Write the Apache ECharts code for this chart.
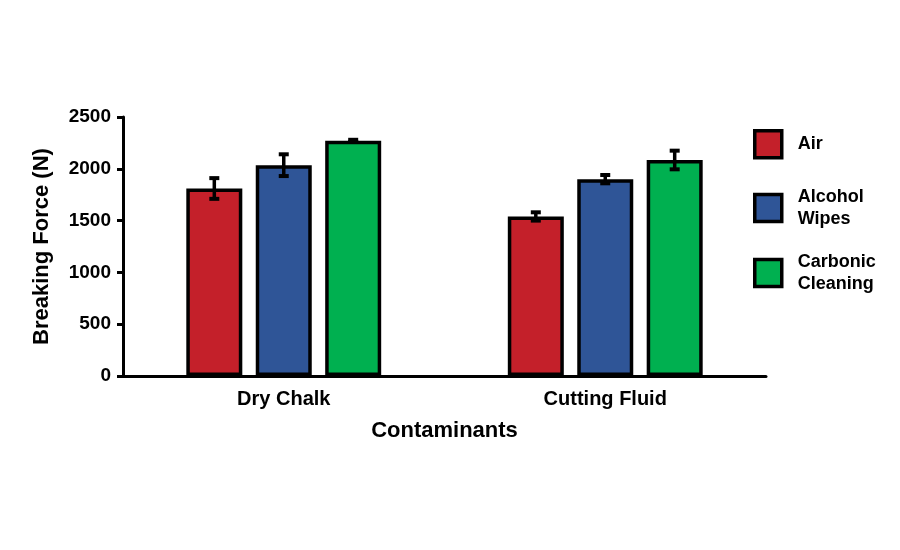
<!DOCTYPE html>
<html>
<head>
<meta charset="utf-8">
<script src="https://cdn.jsdelivr.net/npm/echarts@6/dist/echarts.min.js"></script>
<style>
  html, body { margin: 0; padding: 0; background: #fff; }
  #chart { width: 900px; height: 550px; }
</style>
</head>
<body>
<div id="chart"></div>
<script>
// data
const categories = ['Dry Chalk', 'Cutting Fluid'];
const seriesNames = ['Air', 'Alcohol Wipes', 'Carbonic Cleaning'];
const airMean = [1810, 1540];
const airErr = [100, 40];
const wipesMean = [2035, 1900];
const wipesErr = [105, 40];
const carbonMean = [2270, 2085];
const carbonErr = [10, 90];

const colors = ['#C4202A', '#2F5597', '#00B050'];
const barWidth = 56;
const barGap = 0.24;
const sansFont = '"Liberation Sans", Arial, sans-serif';

const means = [airMean, wipesMean, carbonMean];
const errs = [airErr, wipesErr, carbonErr];

const chart = echarts.init(document.getElementById('chart'));

const barSeries = seriesNames.map((name, i) => ({
  name: name,
  type: 'bar',
  barWidth: barWidth,
  barGap: (barGap * 100) + '%',
  data: means[i],
  itemStyle: { color: colors[i], borderColor: '#000', borderWidth: 3.5 },
  z: 2
}));

// error bars, one custom series per bar series
const errSeries = seriesNames.map((name, i) => ({
  type: 'custom',
  name: name + ' err',
  z: 5,
  silent: true,
  data: means[i].map((m, k) => [k, m - errs[i][k], m + errs[i][k]]),
  renderItem: (params, api) => {
    const offset = (i - 1) * barWidth * (1 + barGap);
    const lo = api.coord([api.value(0), api.value(1)]);
    const hi = api.coord([api.value(0), api.value(2)]);
    const x = lo[0] + offset;
    const half = 5;
    const stem = { stroke: '#000', lineWidth: 3.5 };
    const cap = { stroke: '#000', lineWidth: 4 };
    return {
      type: 'group',
      children: [
        { type: 'line', shape: { x1: x, y1: lo[1], x2: x, y2: hi[1] }, style: stem },
        { type: 'line', shape: { x1: x - half, y1: lo[1], x2: x + half, y2: lo[1] }, style: cap },
        { type: 'line', shape: { x1: x - half, y1: hi[1], x2: x + half, y2: hi[1] }, style: cap }
      ]
    };
  }
}));

const legendTops = [129, 186, 251];
const legendLabels = ['Air', 'Alcohol\nWipes', 'Carbonic\nCleaning'];

const option = {
  animation: false,
  backgroundColor: '#fff',
  grid: { left: 123, right: 134, top: 117, bottom: 174 },
  legend: seriesNames.map((name, i) => ({
    data: [name],
    orient: 'vertical',
    left: 753,
    top: legendTops[i],
    padding: 0,
    icon: 'rect',
    itemWidth: 27,
    itemHeight: 27,
    itemStyle: { borderColor: '#000', borderWidth: 3.5 },
    selectedMode: false,
    formatter: () => legendLabels[i],
    textStyle: {
      fontFamily: sansFont,
      fontWeight: 'bold',
      fontSize: 18,
      lineHeight: 22,
      color: '#000',
      padding: [0, 0, 0, 11]
    }
  })),
  xAxis: {
    type: 'category',
    data: categories,
    name: 'Contaminants',
    nameLocation: 'middle',
    nameGap: 44,
    nameTextStyle: { fontFamily: sansFont, fontWeight: 'bold', fontSize: 22, color: '#000' },
    axisLine: { lineStyle: { color: '#000', width: 3 } },
    axisTick: { length: 6, interval: 0, lineStyle: { color: '#000', width: 3 } },
    axisLabel: { margin: 13, fontFamily: sansFont, fontWeight: 'bold', fontSize: 20, color: '#000' }
  },
  yAxis: {
    type: 'value',
    min: 0,
    max: 2500,
    interval: 500,
    name: 'Breaking Force (N)',
    nameLocation: 'middle',
    nameGap: 70,
    nameTextStyle: { fontFamily: sansFont, fontWeight: 'bold', fontSize: 22, color: '#000' },
    axisLine: { show: true, lineStyle: { color: '#000', width: 3 } },
    axisTick: { show: true, length: 6, lineStyle: { color: '#000', width: 3 } },
    splitLine: { show: false },
    axisLabel: {
      margin: 12,
      fontFamily: sansFont,
      fontWeight: 'bold',
      fontSize: 19,
      color: '#000',
      formatter: (v) => String(v)
    }
  },
  series: barSeries.concat(errSeries)
};

chart.setOption(option);
</script>
</body>
</html>
